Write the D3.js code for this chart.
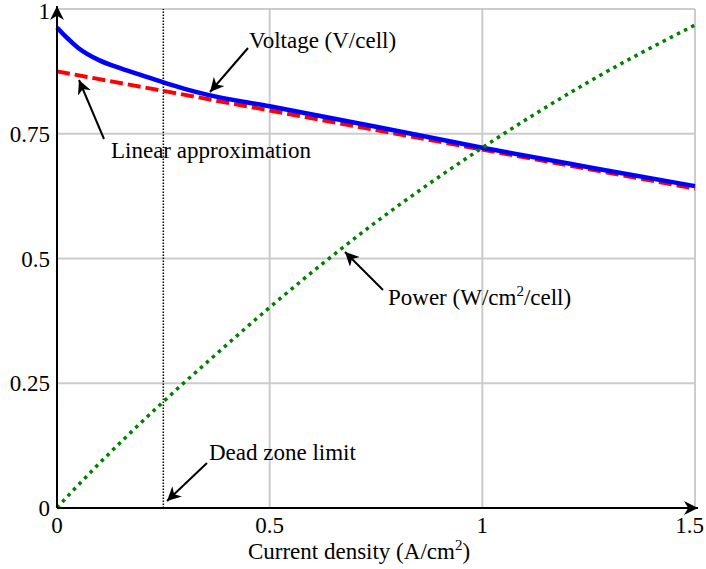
<!DOCTYPE html>
<html><head><meta charset="utf-8">
<script src="https://cdn.jsdelivr.net/npm/d3@7/dist/d3.min.js"></script>
<style>body{margin:0;background:#fff}svg{display:block}text{font-family:"Liberation Serif","Times New Roman",serif;fill:#000}</style>
</head><body>
<svg id="c" width="706" height="569"></svg>
<script>
const current = [0, 0.02, 0.05, 0.1, 0.15, 0.2, 0.25, 0.3, 0.35, 0.5, 0.75, 1.0, 1.25, 1.5];
const voltage = [0.963, 0.945, 0.922, 0.897, 0.881, 0.867, 0.853, 0.840, 0.829, 0.805, 0.764, 0.722, 0.683, 0.645];
const power   = [0, 0.019, 0.046, 0.09, 0.132, 0.173, 0.213, 0.252, 0.29, 0.402, 0.573, 0.722, 0.854, 0.968];
const linearX = [0, 1.5];
const linearV = [0.875, 0.64];
const deadZone = 0.25;
const xTicks = [0, 0.5, 1, 1.5];
const yTicks = [0, 0.25, 0.5, 0.75, 1];
const xTickLabels = ["0", "0.5", "1", "1.5"];
const yTickLabels = ["0", "0.25", "0.5", "0.75", "1"];

const svg = d3.select("#c");
const x = d3.scaleLinear().domain([0, 1.5]).range([57, 695]);
const y = d3.scaleLinear().domain([0, 1]).range([508, 9]);
const FS = 23;

// grid
svg.append("g").selectAll("line").data(xTicks.slice(1)).join("line")
  .attr("x1", d => x(d)).attr("x2", d => x(d)).attr("y1", y(0)).attr("y2", y(1))
  .attr("stroke", "#cccccc").attr("stroke-width", 2);
svg.append("g").selectAll("line").data(yTicks.slice(1)).join("line")
  .attr("x1", x(0)).attr("x2", x(1.5)).attr("y1", d => y(d)).attr("y2", d => y(d))
  .attr("stroke", "#cccccc").attr("stroke-width", 2);

// defs
const defs = svg.append("defs");
defs.append("marker").attr("id", "ah").attr("viewBox", "0 0 10 10").attr("refX", 10).attr("refY", 5)
  .attr("markerWidth", 14).attr("markerHeight", 14).attr("markerUnits", "userSpaceOnUse").attr("orient", "auto")
  .append("path").attr("d", "M0,0 L10,5 L0,10 L3,5 Z").attr("fill", "#000");
defs.append("marker").attr("id", "axh").attr("viewBox", "0 0 10 10").attr("refX", 10).attr("refY", 5)
  .attr("markerWidth", 16).attr("markerHeight", 14).attr("markerUnits", "userSpaceOnUse").attr("orient", "auto")
  .append("path").attr("d", "M0,0 L10,5 L0,10 L3,5 Z").attr("fill", "#000");

// dead zone line
svg.append("line").attr("x1", x(deadZone)).attr("x2", x(deadZone)).attr("y1", y(0)).attr("y2", y(1))
  .attr("stroke", "#000").attr("stroke-width", 1.5).attr("stroke-dasharray", "1.5,1.5");

const pts = current.map((c, i) => ({c, v: voltage[i], p: power[i]}));
const line = d3.line().curve(d3.curveMonotoneX);

// linear approximation
svg.append("path").attr("d", d3.line()(linearX.map((c, i) => [x(c), y(linearV[i])])))
  .attr("fill", "none").attr("stroke", "#ff0000").attr("stroke-width", 4).attr("stroke-dasharray", "13,5");
// voltage
svg.append("path").attr("d", line(pts.map(d => [x(d.c), y(d.v)])))
  .attr("fill", "none").attr("stroke", "#0000ff").attr("stroke-width", 4.5);
// power
svg.append("path").attr("d", line(pts.map(d => [x(d.c), y(d.p)])))
  .attr("fill", "none").attr("stroke", "#008000").attr("stroke-width", 3.5).attr("stroke-dasharray", "3.5,4.5");

// axes
svg.append("line").attr("x1", x(0)).attr("y1", y(0)).attr("x2", 698).attr("y2", y(0))
  .attr("stroke", "#000").attr("stroke-width", 2).attr("marker-end", "url(#axh)");
svg.append("line").attr("x1", x(0)).attr("y1", y(0)).attr("x2", x(0)).attr("y2", 6)
  .attr("stroke", "#000").attr("stroke-width", 2).attr("marker-end", "url(#axh)");

// tick labels
svg.append("g").selectAll("text").data(xTicks).join("text")
  .attr("x", (d, i) => i === xTicks.length - 1 ? 704 : x(d))
  .attr("y", 533).attr("text-anchor", (d, i) => i === xTicks.length - 1 ? "end" : "middle").attr("font-size", FS)
  .text((d, i) => xTickLabels[i]);
svg.append("g").selectAll("text").data(yTicks).join("text")
  .attr("x", 50).attr("y", d => Math.max(y(d) + 8, 19)).attr("text-anchor", "end").attr("font-size", FS)
  .text((d, i) => yTickLabels[i]);

// axis label
const xl = svg.append("text").attr("x", 359).attr("y", 559).attr("text-anchor", "middle").attr("font-size", FS);
xl.append("tspan").text("Current density (A/cm");
xl.append("tspan").attr("font-size", 15).attr("dy", -9).text("2");
xl.append("tspan").attr("dy", 9).text(")");

// annotations
function arrow(x1, y1, x2, y2) {
  svg.append("line").attr("x1", x1).attr("y1", y1).attr("x2", x2).attr("y2", y2)
    .attr("stroke", "#000").attr("stroke-width", 2).attr("marker-end", "url(#ah)");
}
arrow(248, 48, 210, 92);
svg.append("text").attr("x", 249).attr("y", 48).attr("font-size", FS).text("Voltage (V/cell)");
arrow(104, 139, 79, 80);
svg.append("text").attr("x", 111).attr("y", 158).attr("font-size", FS).text("Linear approximation");
arrow(383, 290, 345, 252);
const pt = svg.append("text").attr("x", 388).attr("y", 305).attr("font-size", FS);
pt.append("tspan").text("Power (W/cm");
pt.append("tspan").attr("font-size", 15).attr("dy", -9).text("2");
pt.append("tspan").attr("dy", 9).text("/cell)");
arrow(207, 463, 167, 501);
svg.append("text").attr("x", 209).attr("y", 460).attr("font-size", FS).text("Dead zone limit");
</script>
</body></html>
